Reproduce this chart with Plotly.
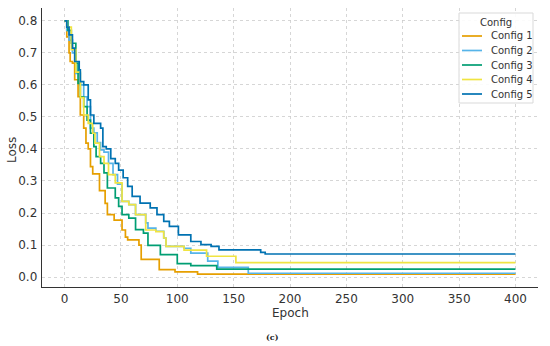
import plotly.graph_objects as go

# Step-curve breakpoints (epoch where the loss changes, new loss value)
epochs1 = [0, 2, 4, 5, 7, 9, 12, 14, 17, 19, 21, 23, 25, 31, 36, 38, 44, 51, 54, 56, 66, 68, 84, 98, 118, 400]
loss1 = [0.80, 0.75, 0.70, 0.673, 0.668, 0.616, 0.563, 0.506, 0.465, 0.418, 0.40, 0.345, 0.322, 0.27, 0.23, 0.195, 0.178, 0.147, 0.125, 0.116, 0.10, 0.055, 0.023, 0.016, 0.009, 0.009]

epochs2 = [0, 2, 4, 7, 10, 14, 17, 20, 23, 26, 29, 32, 35, 39, 43, 47, 51, 57, 63, 72, 74, 81, 88, 90, 106, 112, 127, 136, 163, 400]
loss2 = [0.80, 0.77, 0.74, 0.70, 0.636, 0.60, 0.563, 0.532, 0.465, 0.45, 0.42, 0.397, 0.39, 0.355, 0.32, 0.29, 0.236, 0.226, 0.195, 0.169, 0.153, 0.143, 0.122, 0.096, 0.09, 0.075, 0.05, 0.03, 0.012, 0.012]

epochs3 = [0, 3, 6, 10, 12, 14, 17, 20, 23, 26, 28, 32, 35, 38, 45, 48, 51, 57, 63, 70, 74, 85, 100, 112, 135, 400]
loss3 = [0.80, 0.77, 0.73, 0.668, 0.605, 0.563, 0.532, 0.49, 0.449, 0.407, 0.376, 0.355, 0.325, 0.278, 0.247, 0.221, 0.195, 0.184, 0.148, 0.137, 0.099, 0.07, 0.042, 0.036, 0.025, 0.025]

epochs4 = [0, 2, 6, 10, 14, 17, 21, 25, 27, 31, 35, 39, 45, 51, 57, 63, 72, 81, 88, 90, 106, 126, 152, 400]
loss4 = [0.80, 0.78, 0.71, 0.64, 0.56, 0.506, 0.48, 0.449, 0.418, 0.376, 0.355, 0.32, 0.294, 0.236, 0.226, 0.195, 0.147, 0.142, 0.122, 0.096, 0.084, 0.065, 0.045, 0.045]

epochs5 = [0, 2, 4, 7, 9, 13, 14, 17, 21, 23, 26, 32, 34, 37, 41, 45, 48, 52, 56, 60, 67, 76, 82, 88, 93, 101, 112, 121, 130, 137, 174, 178, 400]
loss5 = [0.80, 0.78, 0.756, 0.715, 0.673, 0.647, 0.61, 0.60, 0.553, 0.506, 0.48, 0.465, 0.407, 0.40, 0.37, 0.355, 0.334, 0.31, 0.283, 0.252, 0.231, 0.216, 0.195, 0.174, 0.158, 0.132, 0.111, 0.101, 0.096, 0.085, 0.077, 0.072, 0.072]

names = ["Config 1", "Config 2", "Config 3", "Config 4", "Config 5"]
colors = ["#E69F00", "#56B4E9", "#009E73", "#F0E442", "#0072B2"]
xs = [epochs1, epochs2, epochs3, epochs4, epochs5]
ys = [loss1, loss2, loss3, loss4, loss5]

x_ticks = [0, 50, 100, 150, 200, 250, 300, 350, 400]
y_ticks = [0.0, 0.1, 0.2, 0.3, 0.4, 0.5, 0.6, 0.7, 0.8]

W, H = 550, 346
ML, MR, MT, MB = 42, 12, 8, 59
PW, PH = W - ML - MR, H - MT - MB


def px(xp):
    return (xp - ML) / PW


def py(yp):
    return (H - MB - yp) / PH


fig = go.Figure()
for n, c, x, y in zip(names, colors, xs, ys):
    fig.add_trace(go.Scatter(x=x, y=y, mode="lines", name=n, showlegend=False,
                             line=dict(color=c, width=1.7, shape="hv")))

txt = "#333333"
fig.update_layout(
    width=W, height=H,
    margin=dict(l=ML, r=MR, t=MT, b=MB, autoexpand=False),
    paper_bgcolor="white", plot_bgcolor="white",
    font=dict(family="DejaVu Sans", size=12, color=txt),
    showlegend=False,
    hovermode=False,
    xaxis=dict(
        range=[-20, 420], tickvals=x_ticks, ticktext=[str(t) for t in x_ticks],
        showgrid=True, gridcolor="#cccccc", gridwidth=0.8, griddash="dot",
        zeroline=False, showline=True, linecolor=txt, linewidth=1.3,
        ticks="", automargin=False,
        tickfont=dict(family="DejaVu Sans", size=12, color=txt),
    ),
    yaxis=dict(
        range=[-0.031, 0.84], tickvals=y_ticks, ticktext=[f"{t:.1f}" for t in y_ticks],
        showgrid=True, gridcolor="#cccccc", gridwidth=0.8, griddash="dot",
        zeroline=False, showline=True, linecolor=txt, linewidth=1.3,
        ticks="outside", ticklen=1, tickcolor="rgba(0,0,0,0)", automargin=False,
        tickfont=dict(family="DejaVu Sans", size=12, color=txt),
    ),
)

# axis titles and panel label at the reference's pixel positions
fig.add_annotation(text="Epoch", xref="paper", yref="paper", x=px(290), y=py(313),
                   xanchor="center", yanchor="middle", showarrow=False,
                   font=dict(family="DejaVu Sans", size=12, color=txt))
fig.add_annotation(text="Loss", xref="paper", yref="paper", textangle=-90, x=px(12), y=py(150),
                   xanchor="center", yanchor="middle", showarrow=False,
                   font=dict(family="DejaVu Sans", size=12, color=txt))
fig.add_annotation(text="<b>(c)</b>", xref="paper", yref="paper", x=px(272), y=py(337),
                   xanchor="center", yanchor="middle", showarrow=False,
                   font=dict(family="DejaVu Serif", size=8, color="#222222"))

# compact legend box (matplotlib-style) drawn in paper coordinates
fig.add_shape(type="rect", xref="paper", yref="paper", x0=px(459), x1=px(533), y0=py(103), y1=py(13),
              line=dict(color="#d9d9d9", width=1), fillcolor="rgba(255,255,255,0.9)", layer="above")
fig.add_annotation(text="Config", xref="paper", yref="paper", x=px(496), y=py(22),
                   xanchor="center", yanchor="middle", showarrow=False,
                   font=dict(family="DejaVu Sans", size=10, color=txt))
entry_y = [36, 50.5, 65, 79.5, 94]
for n, c, ey in zip(names, colors, entry_y):
    fig.add_shape(type="line", xref="paper", yref="paper", x0=px(462), x1=px(482), y0=py(ey), y1=py(ey),
                  line=dict(color=c, width=1.7), layer="above")
    fig.add_annotation(text=n, xref="paper", yref="paper", x=px(489), y=py(ey),
                       xanchor="left", yanchor="middle", showarrow=False,
                       font=dict(family="DejaVu Sans", size=10, color=txt))

# remove the default 8px page margin so the figure sits at the window's top-left corner
fig.write_html("out.html", post_script="document.body.style.margin='0';",
               config={"displayModeBar": False, "staticPlot": True})
